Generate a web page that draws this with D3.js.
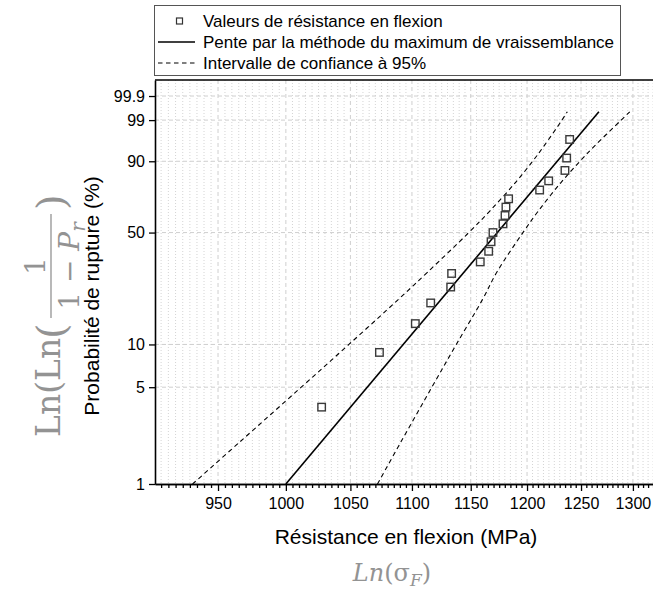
<!DOCTYPE html>
<html><head><meta charset="utf-8">
<script src="https://cdn.jsdelivr.net/npm/d3@7"></script>
<style>body{margin:0;background:#fff}svg{display:block}</style>
</head><body>
<svg id="chart" width="653" height="590"></svg>
<script>
// ---- data ----
const strength = [1027.4,1073.3,1102.8,1115.7,1132.7,1133.5,1158.3,1165.7,1167.8,1169.5,1178.4,1180.2,1181.0,1183.4,1211.5,1219.8,1234.9,1236.5,1239.3];
const probability = [3.6,8.8,13.9,19.1,24.2,29.4,34.5,39.7,44.8,50.0,55.2,60.3,65.5,70.6,75.8,80.9,86.1,91.2,96.4];
const fitStrength = [1000,1267];
const fitProbability = [1,99.5];
const bandProbability = [1,2,5,10,20,30,50,63.2,80,90,95,99,99.5];
const lowerBandStrength = [931.9,965.3,1011.7,1048.8,1088.4,1113.2,1148.3,1166.9,1189.5,1205.1,1215.7,1232.1,1237.1];
const upperBandStrength = [1071.7,1090.6,1116.7,1137.5,1160.1,1173.0,1196.3,1210.4,1231.2,1249.0,1263.2,1288.5,1296.9];
const xTicks = [950,1000,1050,1100,1150,1200,1250,1300];
const yTicks = [1,5,10,50,90,99,99.9];
const yTickLabels = ["1","5","10","50","90","99","99.9"];
const legendLabels = ["Valeurs de résistance en flexion","Pente par la méthode du maximum de vraissemblance","Intervalle de confiance à 95%"];
const xTitle = "Résistance en flexion (MPa)";
const yTitle = "Probabilité de rupture (%)";

// ---- layout ----
const L = 155, R = 660, T = 80, B = 484;
const svg = d3.select("#chart");
const font = "'Liberation Sans', Arial, sans-serif";
const weib = p => Math.log(-Math.log(1 - p/100));

const x = d3.scaleLog().domain([905.8, 1326.9]).range([L, R]);
const y = d3.scaleLinear().domain([weib(1), 2.2025]).range([B, T]);

svg.append("defs").append("clipPath").attr("id","clip")
  .append("rect").attr("x",L).attr("y",T).attr("width",R-L).attr("height",B-T);

const minor = d3.range(910, 1330, 5).filter(v => v % 50 !== 0);

// grid
const grid = svg.append("g").attr("clip-path","url(#clip)");
grid.selectAll(".vmin").data(minor).join("line")
  .attr("x1",d=>x(d)).attr("x2",d=>x(d)).attr("y1",T).attr("y2",B)
  .attr("stroke","#d4d4d4").attr("stroke-width",1).attr("stroke-dasharray","1,2");
grid.selectAll(".vmaj").data(xTicks).join("line")
  .attr("x1",d=>x(d)).attr("x2",d=>x(d)).attr("y1",T).attr("y2",B)
  .attr("stroke","#cfcfcf").attr("stroke-width",1).attr("stroke-dasharray","4,3");
grid.selectAll(".hmaj").data(yTicks.slice(1)).join("line")
  .attr("x1",L).attr("x2",R).attr("y1",d=>y(weib(d))).attr("y2",d=>y(weib(d)))
  .attr("stroke","#cfcfcf").attr("stroke-width",1).attr("stroke-dasharray","4,3");

// lines
const line = d3.line().x(d=>x(d[0])).y(d=>y(weib(d[1])));
const lineC = d3.line().curve(d3.curveCatmullRom).x(d=>x(d[0])).y(d=>y(weib(d[1])));
const plot = svg.append("g").attr("clip-path","url(#clip)");
plot.append("path").datum(fitStrength.map((s,i)=>[s,fitProbability[i]]))
  .attr("d",line).attr("fill","none").attr("stroke","#000").attr("stroke-width",1.6);
[lowerBandStrength, upperBandStrength].forEach(arr=>{
  plot.append("path").datum(arr.map((s,i)=>[s,bandProbability[i]]))
    .attr("d",lineC).attr("fill","none").attr("stroke","#000").attr("stroke-width",1.1)
    .attr("stroke-dasharray","4.5,3.5");
});
const sz = 7.5;
svg.append("g").selectAll("rect").data(strength.map((s,i)=>[s,probability[i]])).join("rect")
  .attr("x",d=>x(d[0])-sz/2).attr("y",d=>y(weib(d[1]))-sz/2)
  .attr("width",sz).attr("height",sz).attr("fill","none")
  .attr("stroke","#3a3a3a").attr("stroke-width",1.4);

// axes
const xAxis = svg.append("g").attr("transform",`translate(0,${B})`)
  .call(d3.axisBottom(x).tickValues(xTicks).tickFormat(d3.format("d")).tickSize(7).tickSizeOuter(0).tickPadding(7));
const xMinor = svg.append("g").attr("transform",`translate(0,${B})`)
  .call(d3.axisBottom(x).tickValues(minor).tickFormat("").tickSize(4).tickSizeOuter(0));
const yAxis = svg.append("g").attr("transform",`translate(${L},0)`)
  .call(d3.axisLeft(y).tickValues(yTicks.map(weib)).tickFormat((d,i)=>yTickLabels[i]).tickSize(6).tickSizeOuter(0).tickPadding(4));
[xAxis,xMinor,yAxis].forEach(g=>{
  g.select(".domain").attr("stroke","#000").attr("stroke-width",1.6);
  g.selectAll(".tick line").attr("stroke","#000").attr("stroke-width",1.3);
  g.selectAll("text").attr("font-family",font).attr("font-size",16).attr("fill","#000");
});
svg.append("line").attr("x1",L).attr("x2",R).attr("y1",T).attr("y2",T).attr("stroke","#000").attr("stroke-width",1.6);

// titles
svg.append("text").attr("x",406).attr("y",544).attr("text-anchor","middle")
  .attr("font-family",font).attr("font-size",21).attr("fill","#000").text(xTitle);
svg.append("text").attr("transform","translate(99,296) rotate(-90)").attr("text-anchor","middle")
  .attr("font-family",font).attr("font-size",21).attr("fill","#000").text(yTitle);

// legend
const lg = svg.append("g");
lg.append("rect").attr("x",154.5).attr("y",5.5).attr("width",466).attr("height",70)
  .attr("fill","#fff").attr("stroke","#555").attr("stroke-width",1);
const rows = [21,42,63];
lg.append("rect").attr("x",179.5-3).attr("y",rows[0]-3).attr("width",6).attr("height",6)
  .attr("fill","none").attr("stroke","#333").attr("stroke-width",1.2);
lg.append("line").attr("x1",158).attr("x2",195).attr("y1",rows[1]).attr("y2",rows[1])
  .attr("stroke","#000").attr("stroke-width",1.6);
lg.append("line").attr("x1",158).attr("x2",195).attr("y1",rows[2]).attr("y2",rows[2])
  .attr("stroke","#000").attr("stroke-width",1.1).attr("stroke-dasharray","4.5,3.5");
lg.selectAll("text.lab").data(legendLabels).join("text")
  .attr("x",203).attr("y",(d,i)=>rows[i]).attr("dy","0.35em")
  .attr("font-family",font).attr("font-size",17).attr("fill","#000").text(d=>d);

// math annotations (grey)
const grey = "#939393", serif = "'DejaVu Serif','Liberation Serif',serif";
const m = svg.append("g").attr("transform","translate(60,0) rotate(-90)")
  .attr("fill",grey).attr("font-family",serif);
m.append("text").attr("x",-437).attr("y",0).attr("font-size",33).text("Ln(Ln");
m.append("text").attr("x",-339).attr("y",5).attr("font-size",40).text("(");
m.append("text").attr("x",-266).attr("y",-15).attr("text-anchor","middle").attr("font-size",28).text("1");
m.append("line").attr("x1",-318).attr("x2",-214).attr("y1",-9).attr("y2",-9).attr("stroke",grey).attr("stroke-width",1.3);
const den = m.append("text").attr("x",-266).attr("y",19).attr("text-anchor","middle").attr("font-size",28);
den.append("tspan").text("1 − ");
den.append("tspan").attr("font-style","italic").text("P");
den.append("tspan").attr("font-style","italic").attr("font-size",20).attr("dy",6).text("r");
m.append("text").attr("x",-210).attr("y",5).attr("font-size",40).text(")");

const b = svg.append("text").attr("x",392).attr("y",581).attr("text-anchor","middle")
  .attr("fill",grey).attr("font-family",serif).attr("font-size",24);
b.append("tspan").attr("font-style","italic").text("Ln");
b.append("tspan").text("(σ");
b.append("tspan").attr("font-style","italic").attr("font-size",17).attr("dy",5).text("F");
b.append("tspan").attr("dy",-5).text(")");
</script>
</body></html>
